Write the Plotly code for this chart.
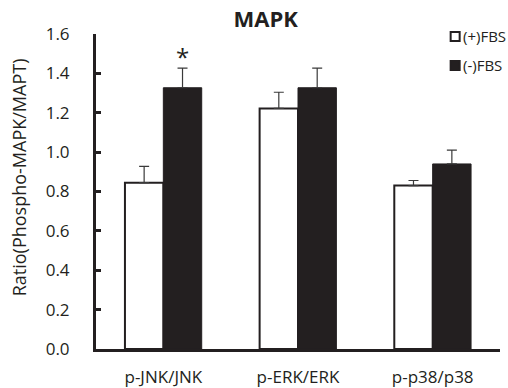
import plotly.graph_objects as go

categories = ["p-JNK/JNK", "p-ERK/ERK", "p-p38/p38"]
plus_fbs = [0.845, 1.222, 0.830]
plus_err = [0.083, 0.082, 0.026]
minus_fbs = [1.327, 1.327, 0.940]
minus_err = [0.100, 0.100, 0.070]
series_names = ["(+)FBS", "(-)FBS"]
y_ticks = [0.0, 0.2, 0.4, 0.6, 0.8, 1.0, 1.2, 1.4, 1.6]

FONT = "Open Sans"
INK = "#231f20"
BW = 0.285
xs = list(range(len(categories)))

fig = go.Figure()
fig.add_trace(go.Bar(
    x=xs, y=plus_fbs, width=BW, offset=-BW, name=series_names[0],
    marker=dict(color="white", line=dict(color=INK, width=2)),
    error_y=dict(type="data", symmetric=False, array=plus_err, arrayminus=[0] * 3,
                 color="#3a3a3a", thickness=1.2, width=5),
    showlegend=False,
))
fig.add_trace(go.Bar(
    x=xs, y=minus_fbs, width=BW, offset=0, name=series_names[1],
    marker=dict(color=INK, line=dict(color=INK, width=1)),
    error_y=dict(type="data", symmetric=False, array=minus_err, arrayminus=[0] * 3,
                 color="#3a3a3a", thickness=1.2, width=5),
    showlegend=False,
))

# significance asterisk above p-JNK (-)FBS
fig.add_annotation(x=xs[0] + BW / 2, y=minus_fbs[0] + minus_err[0], yshift=-7,
                   text="*", showarrow=False, yanchor="bottom",
                   font=dict(family=FONT, size=24, color=INK))

# manual legend
leg = [(0.889, 37, "white"), (0.889, 66, INK)]
for (xa, ypx, fill), name in zip(leg, series_names):
    yp = 1 - (ypx - 34.6) / (349 - 34.6)
    fig.add_shape(type="rect", xref="paper", yref="paper",
                  xsizemode="pixel", ysizemode="pixel",
                  xanchor=xa, yanchor=yp, x0=-4.5, x1=4.5, y0=-4.5, y1=4.5,
                  fillcolor=fill, line=dict(color=INK, width=2))
    fig.add_annotation(xref="paper", yref="paper", x=xa, y=yp, xshift=6,
                       xanchor="left", yanchor="middle", showarrow=False,
                       text=name, font=dict(family=FONT, size=15, color=INK))

# y-axis title
fig.add_annotation(xref="paper", yref="paper", x=0, xshift=-77, y=0.545,
                   text="Ratio(Phospho-MAPK/MAPT)", textangle=-90, showarrow=False,
                   xanchor="center", yanchor="middle",
                   font=dict(family=FONT, size=18, color=INK))

fig.update_layout(
    width=508, height=388,
    margin=dict(l=96, r=8, t=34, b=39, autoexpand=False),
    paper_bgcolor="white", plot_bgcolor="white",
    title=dict(text="<b>MAPK</b>", x=0.523, xanchor="center", y=0.951, yanchor="middle",
               font=dict(family=FONT, size=22, color=INK)),
    xaxis=dict(range=[-0.5, 2.5], tickvals=xs, ticktext=categories, automargin=False,
               showline=True, linecolor=INK, linewidth=3, ticks="",
               showgrid=False, zeroline=False, ticklabelstandoff=11,
               tickfont=dict(family=FONT, size=17, color=INK)),
    yaxis=dict(range=[0, 1.6], tickvals=y_ticks, tickformat=".1f", automargin=False,
               showline=True, linecolor=INK, linewidth=3,
               ticks="inside", ticklen=5, tickwidth=3, tickcolor=INK,
               showgrid=False, zeroline=False, ticklabelstandoff=20,
               tickfont=dict(family=FONT, size=17, color=INK)),
    showlegend=False,
)

fig.write_html("out.html")
